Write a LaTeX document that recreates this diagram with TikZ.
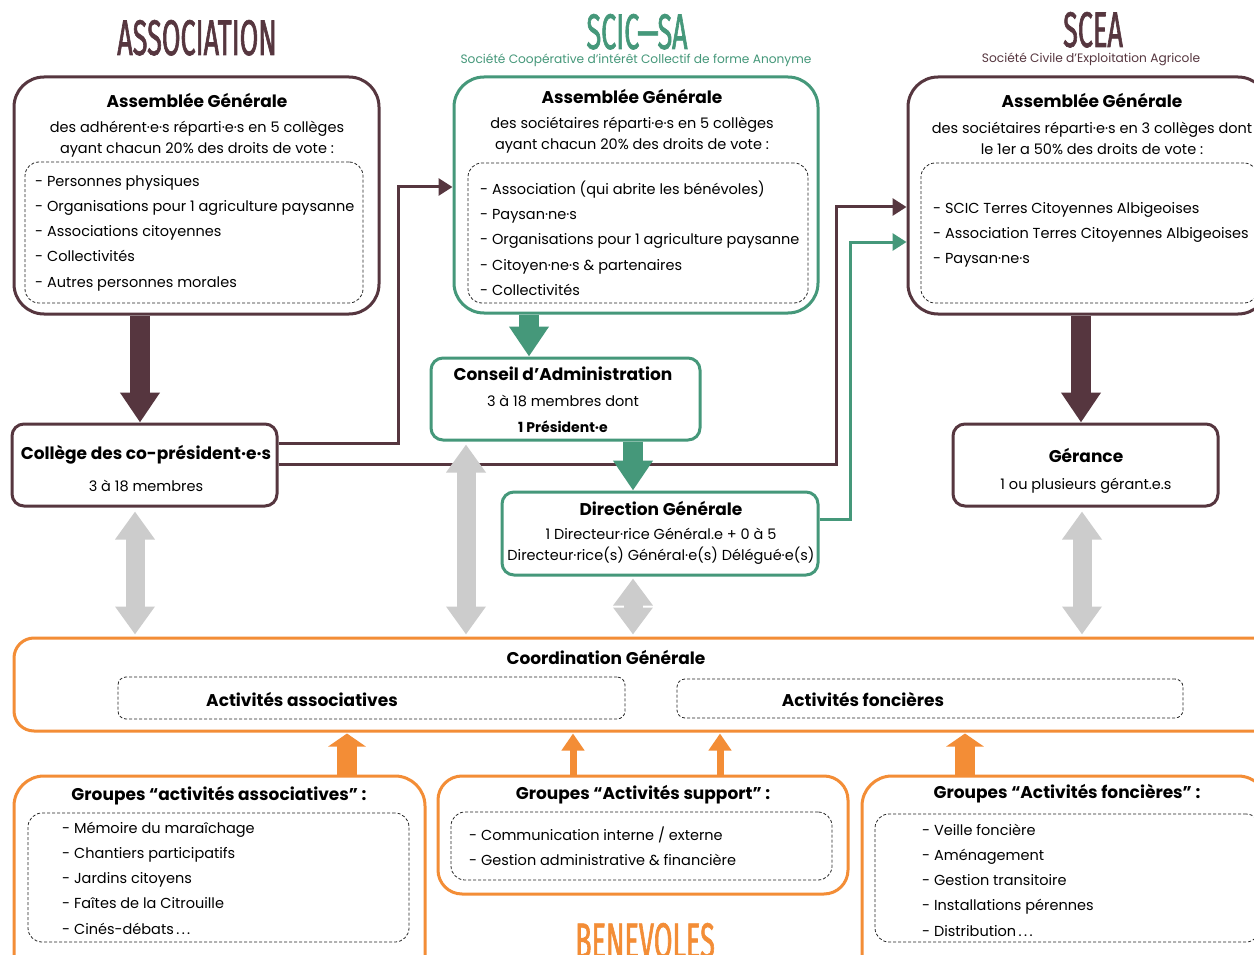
\documentclass[tikz,border=0pt]{standalone}
\usepackage{fontspec}
\setmainfont{Poppins}
\newfontfamily\titlefont[FakeStretch=0.54,FakeBold=1.2]{Fira Sans}
\usetikzlibrary{arrows.meta,fit,calc}
\definecolor{maroon}{HTML}{56363F}
\definecolor{scgreen}{HTML}{45987A}
\definecolor{orng}{HTML}{F38D36}
\definecolor{grayarr}{HTML}{CCCCCC}
\begin{document}
\begin{tikzpicture}[x=1pt,y=-1pt,
  box/.style={draw=#1, line width=3pt, rounded corners=30pt, fill=white, inner sep=0pt},
  sbox/.style={draw=#1, line width=3pt, rounded corners=12pt, fill=white, inner sep=0pt},
  dbox/.style={draw=black!85, dash pattern=on 3pt off 2pt, line width=0.8pt, rounded corners=14pt, inner sep=0pt},
  hd/.style={font=\fontsize{17}{20}\selectfont\bfseries, inner sep=0pt},
  txt/.style={font=\fontsize{14.5}{21}\selectfont, inner sep=0pt, align=center},
  lst/.style={font=\fontsize{14.5}{25.3}\selectfont, inner sep=0pt, align=left, anchor=west},
  ttl/.style={font=\titlefont\fontsize{50}{50}\selectfont, inner sep=0pt, anchor=base, text depth=0pt},
  stl/.style={font=\fontsize{12.2}{14}\selectfont, inner sep=0pt},
  big/.style={line width=20pt, -{Triangle[width=38pt,length=30pt]}},
  gdbl/.style={grayarr, line width=19pt, {Triangle[width=38pt,length=28pt]}-{Triangle[width=38pt,length=28pt]}},
  obig/.style={orng, line width=20pt, -{Triangle[width=37pt,length=13pt]}},
  othin/.style={orng, line width=7pt, -{Triangle[width=22pt,length=17pt]}},
  conn/.style={line width=3pt, -{Triangle[width=17pt,length=14pt]}},
]
\useasboundingbox (0,0) rectangle (1254,955);
\clip (0,0) rectangle (1254,955);
\fill[white] (0,0) rectangle (1254,955);

% column coordinates
\coordinate (xA) at (140,0);
\coordinate (xB) at (529,0);
\coordinate (xC) at (633,0);
\coordinate (xD) at (1081,0);
\coordinate (xG1) at (135,0);
\coordinate (xG2) at (466,0);
\coordinate (xG3) at (633,0);
\coordinate (xG4) at (1082,0);
\coordinate (xO1) at (347,0);
\coordinate (xO2) at (573,0);
\coordinate (xO3) at (720,0);
\coordinate (xO4) at (965,0);
\coordinate (k1) at (398,443);
\coordinate (k2) at (398,187);
\coordinate (k3) at (836,464);
\coordinate (k4) at (836,207);
\coordinate (k5) at (850,519);
\coordinate (k6) at (850,242);

% titles
\node[ttl, text=maroon] (tA) at (197,55) {ASSOCIATION};
\node[ttl, text=scgreen] (tB) at (637,49) {SCIC—SA};
\node[stl, text=scgreen] (sB) at (636,60) {Société Coopérative d’intérêt Collectif de forme Anonyme};
\node[ttl, text=maroon] (tC) at (1093,47) {SCEA};
\node[stl, text=maroon] (sC) at (1091,59) {Société Civile d’Exploitation Agricole};
\node[ttl, text=orng] (tD) at (645,958) {BENEVOLES};

% boxes
\node[box=maroon, fit={(14,77) (379,314)}] (assoag) {};
\node[box=scgreen, fit={(454,77) (818,313)}] (scicag) {};
\node[box=maroon, fit={(908,77) (1268,314)}] (sceaag) {};
\node[sbox=maroon, fit={(12,424) (277,506)}] (college) {};
\node[sbox=scgreen, fit={(431,358) (700,440)}] (ca) {};
\node[sbox=scgreen, fit={(502,492) (818,575)}] (dg) {};
\node[sbox=maroon, fit={(953,424) (1218,506)}] (gerance) {};
\node[box=orng, rounded corners=20pt, fit={(14,638) (1290,731)}] (coord) {};
\node[box=orng, fit={(14,776) (425,990)}] (gasso) {};
\node[box=orng, rounded corners=24pt, fit={(438,776) (848,894)}] (gsup) {};
\node[box=orng, fit={(862,776) (1268,990)}] (gfonc) {};

% connectors
\draw[conn, maroon] (college.east |- k1) -- (k1) -- (k2) -- (scicag.west |- k2);
\draw[conn, maroon] (college.east |- k3) -- (k3) -- (k4) -- (sceaag.west |- k4);
\draw[conn, scgreen] (dg.east |- k5) -- (k5) -- (k6) -- (sceaag.west |- k6);

% block arrows
\draw[big, maroon] (assoag.south -| xA) -- (college.north -| xA);
\draw[big, scgreen] (scicag.south -| xB) -- (ca.north -| xB);
\draw[big, scgreen] (ca.south -| xC) -- (dg.north -| xC);
\draw[big, maroon] (sceaag.south -| xD) -- (gerance.north -| xD);
\draw[gdbl] ([yshift=-4pt]college.south -| xG1) -- ([yshift=2pt]coord.north -| xG1);
\draw[gdbl] ([yshift=-3pt]ca.south -| xG2) -- ([yshift=2pt]coord.north -| xG2);
\draw[gdbl, {Triangle[width=38pt,length=27pt]}-{Triangle[width=38pt,length=27pt]}] ([yshift=-2pt]dg.south -| xG3) -- ([yshift=2pt]coord.north -| xG3);
\draw[gdbl] ([yshift=-4pt]gerance.south -| xG4) -- ([yshift=2pt]coord.north -| xG4);
\draw[obig] (gasso.north -| xO1) -- ([yshift=-1pt]coord.south -| xO1);
\draw[othin] (gsup.north -| xO2) -- ([yshift=-1pt]coord.south -| xO2);
\draw[othin] (gsup.north -| xO3) -- ([yshift=-1pt]coord.south -| xO3);
\draw[obig] (gfonc.north -| xO4) -- ([yshift=-1pt]coord.south -| xO4);

% dashed inner boxes
\node[dbox, fit={(25,162) (363,303)}] (dA) {};
\node[dbox, fit={(468,163) (808,303)}] (dB) {};
\node[dbox, fit={(921,163) (1258,303)}] (dC) {};
\node[dbox, rounded corners=8pt, fit={(118,677) (625,719)}] (dAA) {};
\node[dbox, rounded corners=8pt, fit={(677,679) (1183,718)}] (dAF) {};
\node[dbox, fit={(28,813) (409,942)}] (dG1) {};
\node[dbox, fit={(451,812) (832,880)}] (dG2) {};
\node[dbox, fit={(875,814) (1260,942)}] (dG3) {};

% texts: Association AG
\node[hd] (h1) at (197,100) {Assemblée Générale};
\node[txt] (p1) at (197,139) {des adhérent·e·s réparti·e·s en 5 collèges\\ayant chacun 20\% des droits de vote :};
\node[lst] (l1) at (35,233) {- Personnes physiques\\- Organisations pour 1 agriculture paysanne\\- Associations citoyennes\\- Collectivités\\- Autres personnes morales};
% SCIC AG
\node[hd] (h2) at (632,96) {Assemblée Générale};
\node[txt] (p2) at (632,135) {des sociétaires réparti·e·s en 5 collèges\\ayant chacun 20\% des droits de vote :};
\node[lst] (l2) at (480,238) {- Association (qui abrite les bénévoles)\\- Paysan·ne·s\\- Organisations pour 1 agriculture paysanne\\- Citoyen·ne·s \& partenaires\\- Collectivités};
% SCEA AG
\node[hd] (h3) at (1092,100) {Assemblée Générale};
\node[txt] (p3) at (1092,138.5) {des sociétaires réparti·e·s en 3 collèges dont\\le 1er a 50\% des droits de vote :};
\node[lst] (l3) at (933,235) {- SCIC Terres Citoyennes Albigeoises\\- Association Terres Citoyennes Albigeoises\\- Paysan·ne·s};
% middle boxes
\node[hd] (h4) at (146,455) {Collège des co-président·e·s};
\node[txt] (p4) at (146,486) {3 à 18 membres};
\node[hd] (h5) at (563,374) {Conseil d’Administration};
\node[txt] (p5) at (563,401) {3 à 18 membres dont};
\node[txt, font=\fontsize{14}{16}\selectfont\bfseries] (p5b) at (563,427) {1 Président·e};
\node[hd] (h6) at (661,508) {Direction Générale};
\node[txt] (p6) at (661,546.5) {1 Directeur·rice Général.e + 0 à 5\\Directeur·rice(s) Général·e(s) Délégué·e(s)};
\node[hd] (h7) at (1086,455) {Gérance};
\node[txt] (p7) at (1086,486) {1 ou plusieurs gérant.e.s};
% coordination
\node[hd] (h8) at (606,657) {Coordination Générale};
\node[hd] (h8a) at (302,699) {Activités associatives};
\node[hd] (h8b) at (863,699) {Activités foncières};
% groups
\node[hd] (h9) at (219,796) {Groupes “activités associatives” :};
\node[lst] (l9) at (62,878) {- Mémoire du maraîchage\\- Chantiers participatifs\\- Jardins citoyens\\- Faîtes de la Citrouille\\- Cinés-débats\,.\,.\,.};
\node[hd] (h10) at (643,795) {Groupes “Activités support” :};
\node[lst] (l10) at (469,846.5) {- Communication interne / externe\\- Gestion administrative \& financière};
\node[hd] (h11) at (1067,794) {Groupes “Activités foncières” :};
\node[lst] (l11) at (922,880) {- Veille foncière\\- Aménagement\\- Gestion transitoire\\- Installations pérennes\\- Distribution\,.\,.\,.};
\end{tikzpicture}
\end{document}
